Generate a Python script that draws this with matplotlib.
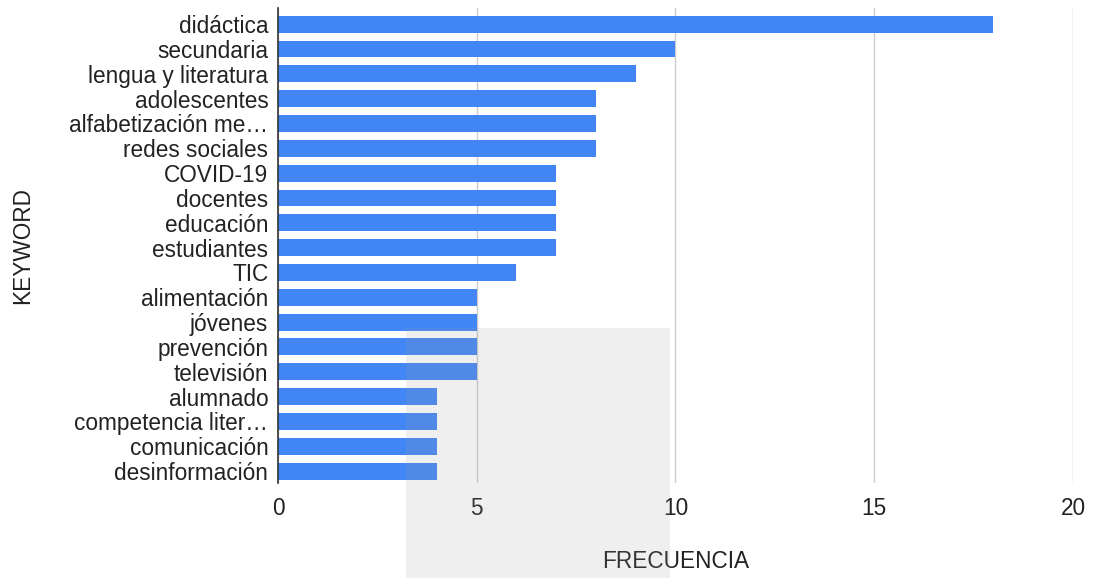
import matplotlib.pyplot as plt
from matplotlib.patches import Rectangle

# --- datos ---
keywords = ['didáctica', 'secundaria', 'lengua y literatura', 'adolescentes',
            'alfabetización me…', 'redes sociales', 'COVID-19', 'docentes',
            'educación', 'estudiantes', 'TIC', 'alimentación', 'jóvenes',
            'prevención', 'televisión', 'alumnado', 'competencia liter…',
            'comunicación', 'desinformación']
frecuencia = [18, 10, 9, 8, 8, 8, 7, 7, 7, 7, 6, 5, 5, 5, 5, 4, 4, 4, 4]
x_ticks = [0, 5, 10, 15, 20]

plt.rcParams['font.family'] = ['Liberation Sans', 'DejaVu Sans']
FS = 16.3

fig = plt.figure(figsize=(10.93, 5.78), dpi=100)
ax = fig.add_axes([278 / 1093, 1 - 483 / 578, 795 / 1093, 475 / 578])

pos = list(range(len(keywords)))
ax.barh(pos, frecuencia, height=0.68, color='#4285f4', zorder=3)

ax.set_xlim(0, 20)
ax.set_ylim(len(keywords) - 0.52, -0.65)
ax.set_xticks(x_ticks)
ax.set_xticklabels([str(t) for t in x_ticks], fontsize=FS, color='#222222')
ax.set_yticks(pos)
ax.set_yticklabels(keywords, fontsize=FS, color='#222222')
ax.tick_params(axis='x', length=0, pad=10)
ax.tick_params(axis='y', length=0, pad=7)

ax.grid(axis='x', color='#cccccc', linewidth=1, zorder=0)
for s in ['top', 'right', 'bottom']:
    ax.spines[s].set_visible(False)
ax.spines['left'].set_color('#333333')
ax.spines['left'].set_linewidth(1.2)
ax.spines['left'].set_zorder(4)

ax.set_xlabel('FRECUENCIA', fontsize=FS, color='#222222', labelpad=22)
ax.set_ylabel('KEYWORD', fontsize=FS, color='#222222', labelpad=25)

# marca de agua gris
fig.patches.append(Rectangle((406 / 1093, 0), 264 / 1093, 250 / 578,
                             transform=fig.transFigure, facecolor='#9e9e9e',
                             alpha=0.16, edgecolor='none', zorder=10))

fig.savefig('out.png', dpi=100)
